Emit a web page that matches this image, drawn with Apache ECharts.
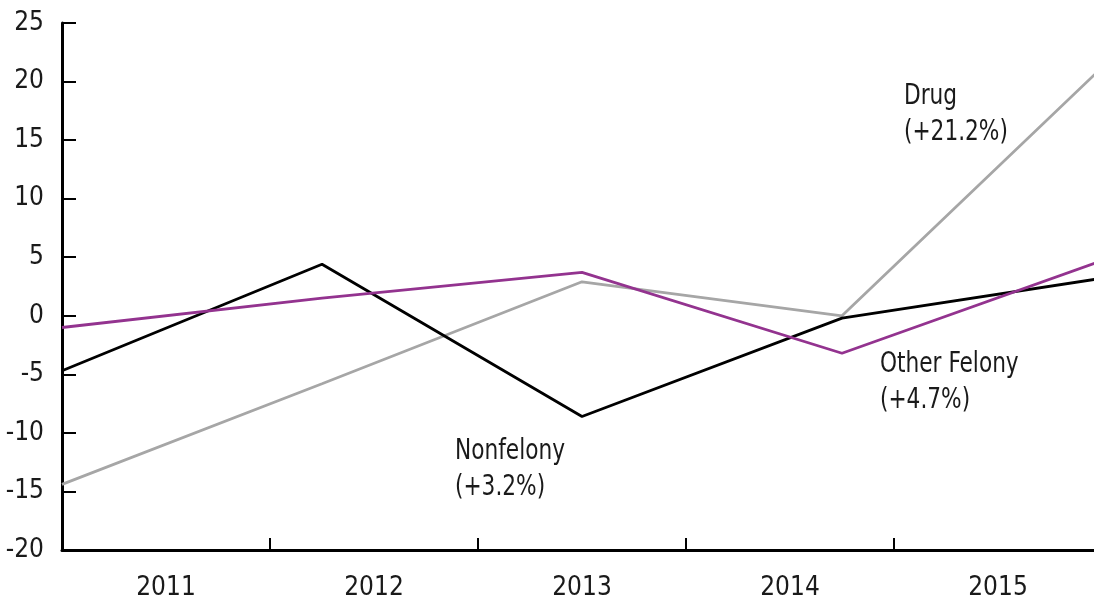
<!DOCTYPE html>
<html>
<head>
<meta charset="utf-8">
<script src="https://cdn.jsdelivr.net/npm/echarts@6/dist/echarts.min.js"></script>
<style>
  html, body { margin: 0; padding: 0; background: #fff; }
  #ec { width: 1094px; height: 601px; }
</style>
</head>
<body>
<div id="ec"></div>
<script>
var years = ['2011', '2012', '2013', '2014', '2015'];
var nonfelony = [-4.7, 4.4, -8.6, -0.2, 3.2];
var drug = [-14.4, -5.8, 2.9, 0, 21.2];
var otherFelony = [-1.0, 1.5, 3.7, -3.2, 4.7];
var yTicks = { min: -20, max: 25, step: 5 };

var FONT = '"Liberation Sans Narrow", "DejaVu Sans Condensed", "Liberation Sans", sans-serif';

var myChart = echarts.init(document.getElementById('ec'));

// label text next to the line ends, squeezed a bit to look like a condensed face
function note(x, y, lines) {
    return {
        type: 'text',
        x: x,
        y: y,
        scaleX: 0.86,
        style: {
            text: lines.join('\n'),
            font: '28px ' + FONT,
            fill: '#1a1a1a',
            lineHeight: 36
        }
    };
}

var option = {
    animation: false,
    // plot runs a little past the right edge, as in the original
    grid: { left: 62, right: -8, top: 23, bottom: 51, outerBoundsMode: 'none', containLabel: false },
    xAxis: [{
        type: 'category',
        data: years,
        boundaryGap: true,
        axisLine: { onZero: false, lineStyle: { color: '#000', width: 3 } },
        axisTick: { show: true, inside: true, length: 12, interval: 0, lineStyle: { color: '#000', width: 2 } },
        axisLabel: { color: '#1a1a1a', fontSize: 26, fontFamily: FONT, margin: 25 },
        splitLine: { show: false }
    }, {
        type: 'category',
        data: years,
        boundaryGap: false,
        show: false
    }],
    yAxis: {
        type: 'value',
        min: yTicks.min,
        max: yTicks.max,
        interval: yTicks.step,
        axisLine: { show: true, lineStyle: { color: '#000', width: 3 } },
        axisTick: { show: true, inside: true, length: 14, lineStyle: { color: '#000', width: 2 } },
        axisLabel: { color: '#1a1a1a', fontSize: 26, fontFamily: FONT, margin: 18 },
        splitLine: { show: false }
    },
    series: [{
        name: 'Drug',
        type: 'line',
        xAxisIndex: 1,
        data: drug,
        symbol: 'none',
        lineStyle: { color: '#a6a6a6', width: 2.8 }
    }, {
        name: 'Nonfelony',
        type: 'line',
        xAxisIndex: 1,
        data: nonfelony,
        symbol: 'none',
        lineStyle: { color: '#000', width: 2.8 }
    }, {
        name: 'Other Felony',
        type: 'line',
        xAxisIndex: 1,
        data: otherFelony,
        symbol: 'none',
        lineStyle: { color: '#93338f', width: 2.8 }
    }],
    graphic: [
        note(904, 79, ['Drug', '(+21.2%)']),
        note(880, 347, ['Other Felony', '(+4.7%)']),
        note(455, 434, ['Nonfelony', '(+3.2%)'])
    ]
};

myChart.setOption(option);
</script>
</body>
</html>
